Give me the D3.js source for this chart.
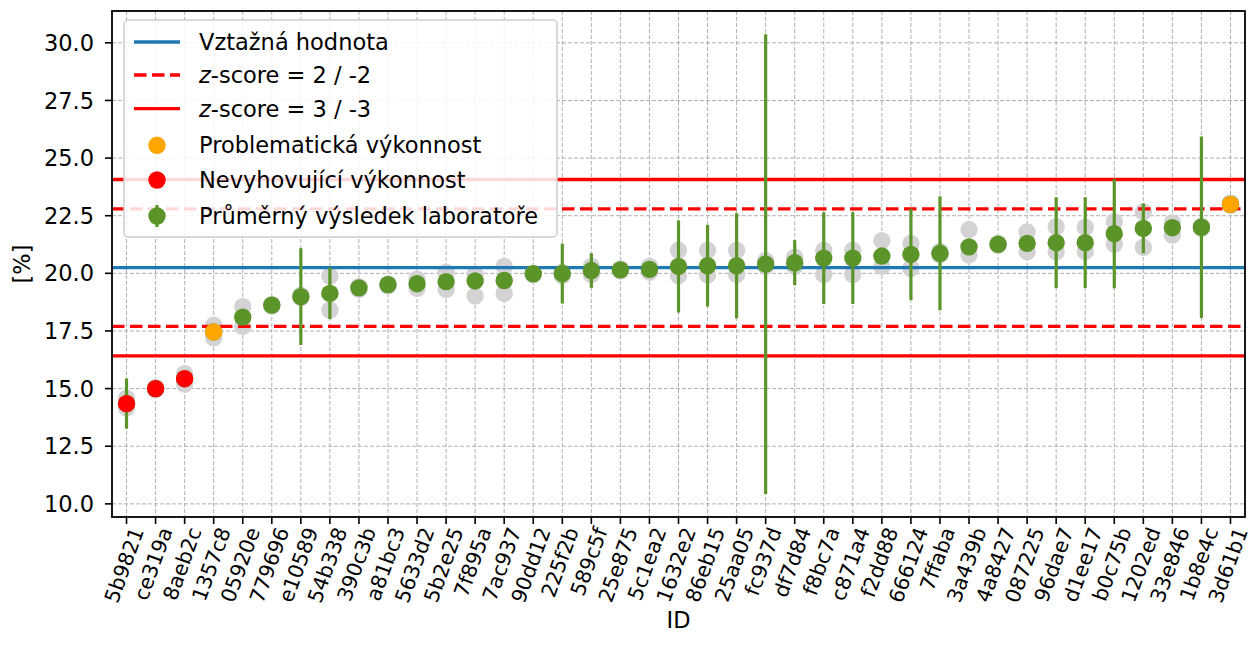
<!DOCTYPE html>
<html><head><meta charset="utf-8">
<script src="https://cdn.jsdelivr.net/npm/d3@7"></script>
<style>body{margin:0;background:#fff} text{font-family:"DejaVu Sans",sans-serif;fill:#000}</style>
</head><body><svg id="c" width="1253" height="657"></svg>
<script>
const ids=["5b9821","ce319a","8aeb2c","1357c8","05920e","779696","e10589","54b338","390c3b","a81bc3","5633d2","5b2e25","7f895a","7ac937","90dd12","225f2b","589c5f","25e875","5c1ea2","1632e2","86eb15","25aa05","fc937d","df7d84","f8bc7a","c871a4","f2dd88","666124","7ffaba","3a439b","4a8427","087225","96dae7","d1ee17","b0c75b","1202ed","33e846","1b8e4c","3d61b1"];
const means=[14.35,15.0,15.43,17.46,18.1,18.62,18.99,19.13,19.37,19.51,19.55,19.64,19.67,19.69,19.98,19.99,20.12,20.15,20.17,20.3,20.33,20.33,20.4,20.46,20.66,20.66,20.75,20.82,20.87,21.15,21.26,21.3,21.33,21.33,21.72,21.95,21.98,22.0,22.99];
const errs=[1.09,0.25,0.25,0.25,0.3,0.2,2.1,1.12,0.2,0.2,0.2,0.3,0.3,0.3,0.2,1.3,0.75,0.2,0.2,2.0,1.77,2.28,9.97,0.98,1.99,1.99,0.3,1.98,2.47,0.3,0.2,0.3,1.97,1.97,2.37,1.08,0.2,3.94,0.2];
const rep1=[14.58,15.05,15.65,17.75,18.55,18.65,19.05,19.88,19.42,19.55,19.75,20.05,19.95,20.3,20.0,20.05,20.3,20.2,20.3,21.0,21.0,21.0,20.55,20.7,21.0,21.0,21.42,21.3,20.95,21.9,21.3,21.8,22.02,22.0,22.24,22.67,22.2,22.05,23.05];
const rep2=[14.17,14.95,15.2,17.2,17.7,18.58,18.95,18.41,19.3,19.45,19.35,19.3,19.02,19.13,19.95,19.9,19.95,20.1,20.05,19.9,19.93,19.95,20.3,20.3,19.95,19.95,20.3,20.22,20.8,20.8,21.22,20.94,20.94,20.95,21.27,21.13,21.66,21.95,22.95];
const refValue=20.245, sigma=1.275;
const yTicks=[10,12.5,15,17.5,20,22.5,25,27.5,30];
const legendLabels=["Vztažná hodnota","-score = 2 / -2","-score = 3 / -3","Problematická výkonnost","Nevyhovující výkonnost","Průměrný výsledek laboratoře"];

const L=112,R=1245,T=11,B=517;
const FS=22.5, XFS=20.5;
const GREEN="#5b9428", BLUE="#1f77b4", RED="#ff0000", ORANGE="#ffa500", GRAY="#d3d3d3";
const svg=d3.select("#c");
const x=d3.scaleLinear().domain([-0.5,ids.length-0.5]).range([L,R]);
const y=d3.scaleLinear().domain([9.43,31.38]).range([B,T]);
const rad=8.7;

// grid
const g=svg.append("g");
g.selectAll("line.gy").data(yTicks).join("line").attr("x1",L).attr("x2",R)
 .attr("y1",d=>y(d)).attr("y2",d=>y(d)).attr("stroke","#b0b0b0").attr("stroke-width",1).attr("stroke-dasharray","4,2");
g.selectAll("line.gx").data(ids).join("line").attr("y1",T).attr("y2",B)
 .attr("x1",(d,i)=>x(i)).attr("x2",(d,i)=>x(i)).attr("stroke","#b0b0b0").attr("stroke-width",1).attr("stroke-dasharray","4,2");

// gray replicate dots
const idx=d3.range(ids.length);
svg.append("g").selectAll("circle").data(idx.flatMap(i=>[[i,rep1[i]],[i,rep2[i]]])).join("circle")
 .attr("cx",d=>x(d[0])).attr("cy",d=>y(d[1])).attr("r",rad).attr("fill",GRAY);

// reference lines
const hl=(v,c,dash)=>svg.append("line").attr("x1",L).attr("x2",R).attr("y1",y(v)).attr("y2",y(v))
 .attr("stroke",c).attr("stroke-width",3.3).attr("stroke-dasharray",dash||null);
hl(refValue,BLUE);
hl(refValue+2*sigma,RED,"12.5,5.5");hl(refValue-2*sigma,RED,"12.5,5.5");
hl(refValue+3*sigma,RED);hl(refValue-3*sigma,RED);

// error bars and mean markers
svg.append("g").selectAll("line").data(idx).join("line")
 .attr("x1",i=>x(i)).attr("x2",i=>x(i)).attr("y1",i=>y(means[i]-errs[i])).attr("y2",i=>y(means[i]+errs[i]))
 .attr("stroke",GREEN).attr("stroke-width",3.2);
svg.append("g").selectAll("circle").data(idx).join("circle")
 .attr("cx",i=>x(i)).attr("cy",i=>y(means[i])).attr("r",rad).attr("fill",GREEN);
const status=i=>{const z=Math.abs((means[i]-refValue)/sigma);return z>=3?RED:(z>2?ORANGE:null);};
svg.append("g").selectAll("circle").data(idx.filter(i=>status(i))).join("circle")
 .attr("cx",i=>x(i)).attr("cy",i=>y(means[i])).attr("r",rad).attr("fill",i=>status(i));

// frame
svg.append("rect").attr("x",L).attr("y",T).attr("width",R-L).attr("height",B-T).attr("fill","none").attr("stroke","#000").attr("stroke-width",1.8);

// y axis
const ya=svg.append("g");
yTicks.forEach(v=>{
  ya.append("line").attr("x1",L-7).attr("x2",L).attr("y1",y(v)).attr("y2",y(v)).attr("stroke","#000").attr("stroke-width",1.6);
  ya.append("text").attr("x",L-18).attr("y",y(v)).attr("dy","0.36em").attr("text-anchor","end").attr("font-size",FS).text(d3.format(".1f")(v));
});
// x axis
const xa=svg.append("g");
const ang=70, rr=ang*Math.PI/180;
ids.forEach((id,i)=>{
  xa.append("line").attr("x1",x(i)).attr("x2",x(i)).attr("y1",B).attr("y2",B+7).attr("stroke","#000").attr("stroke-width",1.6);
  const gg=xa.append("g");
  const t=gg.append("text").attr("text-anchor","middle").attr("dy","0.3em").attr("font-size",XFS).text(id);
  const w=t.node().getComputedTextLength(), h=XFS*0.75;
  const vh=w*Math.sin(rr)+h*Math.cos(rr);
  gg.attr("transform",`translate(${x(i)-1.5},${B+9+vh/2}) rotate(${-ang})`);
});
svg.append("text").attr("x",(L+R)/2).attr("y",628).attr("text-anchor","middle").attr("font-size",FS).text("ID");
svg.append("text").attr("transform",`translate(30,${(T+B)/2}) rotate(-90)`).attr("text-anchor","middle").attr("font-size",FS).text("[%]");

// legend
const lg=svg.append("g");
lg.append("rect").attr("x",124).attr("y",20).attr("width",433).attr("height",217).attr("rx",4)
 .attr("fill","#fff").attr("fill-opacity",0.85).attr("stroke","#cccccc").attr("stroke-width",1.5);
const rows=[42,75,108.7,145.3,180,216];
const lx1=134,lx2=180,lmx=157,ltx=199;
lg.append("line").attr("x1",lx1).attr("x2",lx2).attr("y1",rows[0]).attr("y2",rows[0]).attr("stroke",BLUE).attr("stroke-width",3.3);
lg.append("line").attr("x1",lx1).attr("x2",lx2).attr("y1",rows[1]).attr("y2",rows[1]).attr("stroke",RED).attr("stroke-width",3.3).attr("stroke-dasharray","12.5,5.5");
lg.append("line").attr("x1",lx1).attr("x2",lx2).attr("y1",rows[2]).attr("y2",rows[2]).attr("stroke",RED).attr("stroke-width",3.3);
lg.append("circle").attr("cx",lmx).attr("cy",rows[3]).attr("r",rad).attr("fill",ORANGE);
lg.append("circle").attr("cx",lmx).attr("cy",rows[4]).attr("r",rad).attr("fill",RED);
lg.append("line").attr("x1",lmx).attr("x2",lmx).attr("y1",rows[5]-11).attr("y2",rows[5]+11).attr("stroke",GREEN).attr("stroke-width",3.2);
lg.append("circle").attr("cx",lmx).attr("cy",rows[5]).attr("r",rad).attr("fill",GREEN);
legendLabels.forEach((s,k)=>{
  const t=lg.append("text").attr("x",ltx).attr("y",rows[k]).attr("dy","0.36em").attr("font-size",FS);
  if(k===1||k===2){t.append("tspan").attr("font-style","italic").text("z");t.append("tspan").text(s);}
  else t.text(s);
});
</script></body></html>
